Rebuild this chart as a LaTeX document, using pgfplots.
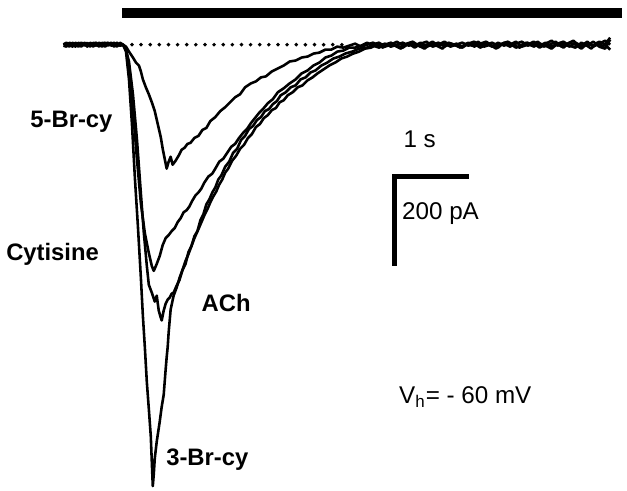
\documentclass[border=0pt]{standalone}
\usepackage{pgfplots}
\pgfplotsset{compat=1.18}
\usepackage{fontspec}
\setmainfont{Liberation Sans}

\begin{document}
\begin{tikzpicture}
\begin{axis}[
    width=313.5pt, height=247pt,
    scale only axis,
    xmin=0, xmax=627, ymin=0, ymax=494,
    y dir=reverse,
    hide axis,
    clip=false,
    no markers,
    tr/.style={black, solid, line width=1.3pt, line join=round},
]
% keep the full frame as bounding box
\path (rel axis cs:0,0) rectangle (rel axis cs:1,1);
% stimulus bar
\addplot[black, line width=5pt] coordinates {(123,13) (627,13)};
% baseline (dotted)
\addplot[black, line width=2pt, line cap=round, dash pattern=on 0pt off 4.6pt] coordinates {(133,45) (345,45)};

% 5-Br-cy
\addplot[tr] coordinates {
(64,45)(67,43)(70,46)(73,44)(76,47)(79,43)(82,45)(85,44)(88,47)(91,43)(94,45)(97,46)(100,43)(103,45)(106,47)(109,44)(112,45)(115,43)(118,46)(121,44)(124,45)
(127,47)(130,52)(134,58)(137,63)(140,66)(142,72)(144,80)(147,88)(150,95)(153,103)(156,112)(159,125)(162,138)(164,150)(166,160)(168,170)(170,163)(172,158)(174,166)(177,162)(180,157)(183,151)(186,149)(189,145)(192,144)(196,139)(200,137)(204,131)(208,129)(212,122)(217,118)(222,112)(227,108)(232,103)(237,98)(242,95)(247,88)(253,84)(258,82)(263,78)(268,77)(274,72)(280,69)(286,66)(292,62)(298,61)(304,58)(310,57)(316,54)(322,53)(328,50)(334,50)(340,47)(346,48)
(352,46)(358,44)(364,47)(370,45)(376,43)(382,46)(388,44)(394,47)(400,45)(406,43)(412,46)(418,44)(424,47)(430,45)(436,42)(442,46)(448,44)(454,47)(460,45)(466,43)(472,46)(478,44)(484,48)(490,45)(496,43)(502,46)(508,44)(514,47)(520,44)(526,42)(532,46)(538,44)(544,48)(550,44)(556,41)(562,46)(568,44)(574,47)(580,43)(586,46)(592,42)(598,47)(604,44)(610,41)(615,45)
};
% Cytisine
\addplot[tr] coordinates {
(64,46)(67,47)(70,43)(73,45)(76,44)(79,47)(82,44)(85,46)(88,43)(91,46)(94,44)(97,43)(100,46)(103,44)(106,43)(109,46)(112,44)(115,47)(118,44)(121,46)(124,45)
(127,50)(130,68)(134,110)(138,160)(142,205)(146,235)(150,255)(153,268)(155,273)(158,266)(161,258)(164,247)(167,240)(170,237)(173,233)(176,230)(179,224)(182,220)(185,214)(188,212)(191,208)(194,202)(197,197)(200,194)(203,190)(206,184)(210,178)(214,175)(217,170)(221,163)(225,160)(229,154)(233,148)(237,145)(241,139)(245,134)(249,130)(253,124)(257,119)(261,114)(265,110)(270,104)(275,100)(280,93)(286,89)(292,84)(298,80)(304,74)(310,71)(316,66)(322,63)(328,58)(334,56)(340,52)(346,51)(352,48)(358,48)
(364,46)(370,43)(376,46)(382,48)(388,45)(394,43)(400,46)(406,48)(412,44)(418,46)(424,43)(430,47)(436,45)(442,43)(448,47)(454,44)(460,46)(466,48)(472,44)(478,42)(484,46)(490,44)(496,47)(502,43)(508,46)(514,44)(520,48)(526,45)(532,43)(538,47)(544,44)(550,46)(556,49)(562,44)(568,42)(574,46)(580,48)(586,43)(592,46)(598,42)(604,47)(610,49)(615,40)
};
% ACh
\addplot[tr] coordinates {
(64,44)(67,45)(70,47)(73,43)(76,45)(79,46)(82,43)(85,45)(88,46)(91,44)(94,47)(97,44)(100,45)(103,47)(106,44)(109,43)(112,46)(115,45)(118,43)(121,46)(124,45)
(127,50)(130,62)(134,95)(138,140)(142,195)(145,235)(148,268)(150,287)(153,295)(156,304)(158,298)(160,313)(162,320)(163,323)(165,313)(167,306)(169,302)(171,300)(173,296)(175,295)(178,288)(181,282)(184,272)(187,266)(190,254)(193,248)(196,238)(199,233)(202,222)(205,216)(208,206)(211,201)(214,194)(217,189)(220,181)(223,177)(227,168)(231,163)(235,154)(239,150)(243,141)(247,137)(251,130)(255,127)(259,121)(263,118)(267,112)(271,110)(275,105)(279,102)(283,96)(288,93)(293,88)(298,86)(303,80)(308,78)(313,73)(318,71)(324,66)(330,63)(336,59)(342,57)(348,54)(355,52)(362,49)(370,48)
(376,45)(382,43)(388,47)(394,45)(400,42)(406,46)(412,44)(418,48)(424,44)(430,42)(436,47)(442,45)(448,42)(454,46)(460,44)(466,47)(472,43)(478,47)(484,44)(490,42)(496,46)(502,48)(508,43)(514,45)(520,42)(526,47)(532,45)(538,42)(544,46)(550,43)(556,47)(562,44)(568,48)(574,43)(580,45)(586,49)(592,44)(598,46)(604,42)(610,45)(615,50)
};
% 3-Br-cy
\addplot[tr] coordinates {
(64,45)(67,44)(70,44)(73,47)(76,43)(79,45)(82,47)(85,43)(88,45)(91,47)(94,43)(97,45)(100,47)(103,43)(106,45)(109,45)(112,43)(115,45)(118,47)(121,43)(124,45)
(127,52)(130,80)(133,125)(136,180)(139,228)(142,280)(144,318)(146,350)(148,385)(150,412)(152,440)(153,465)(154,490)(155,478)(156,462)(158,445)(161,425)(163,410)(165,398)(166,385)(167,372)(168,360)(169,350)(170,335)(172,312)(175,298)(178,290)(181,280)(184,272)(187,263)(190,256)(193,248)(196,240)(200,231)(203,224)(206,217)(209,211)(212,204)(215,198)(218,193)(221,186)(224,181)(227,174)(230,170)(234,162)(238,157)(242,150)(246,146)(250,139)(254,135)(258,128)(262,125)(266,119)(270,116)(274,111)(278,109)(282,103)(286,101)(290,96)(295,93)(300,88)(305,86)(310,81)(315,78)(320,74)(326,70)(332,66)(338,63)(344,59)(350,57)(356,54)(362,52)(368,49)(374,48)
(380,45)(386,48)(392,44)(398,46)(404,49)(410,44)(416,42)(422,46)(428,49)(434,44)(440,46)(446,49)(452,43)(458,45)(464,48)(470,44)(476,46)(482,42)(488,47)(494,45)(500,49)(506,44)(512,42)(518,46)(524,48)(530,43)(536,46)(542,42)(548,47)(554,45)(560,42)(566,47)(572,44)(578,41)(584,47)(590,45)(596,49)(602,43)(608,47)(615,38)
};

% scale bars
\addplot[black, line width=2.6pt] coordinates {(398,268) (398,178) (473,178)};

\tikzset{bl/.style={font=\fontsize{12}{14}\selectfont\bfseries, inner sep=0pt},
         rl/.style={font=\fontsize{12.2}{14}\selectfont, inner sep=0pt}}
\node[bl] at (axis cs:72,123) {5-Br-cy};
\node[bl] at (axis cs:53,256) {Cytisine};
\node[bl] at (axis cs:228,305) {ACh};
\node[bl] at (axis cs:209,463) {3-Br-cy};
\node[rl] at (axis cs:423,140) {1 s};
\node[rl, anchor=west] at (axis cs:405,215) {200 pA};
\node[rl, anchor=west] at (axis cs:402,400) {V$_{\mathrm{h}}$= - 60 mV};
\end{axis}
\end{tikzpicture}
\end{document}
